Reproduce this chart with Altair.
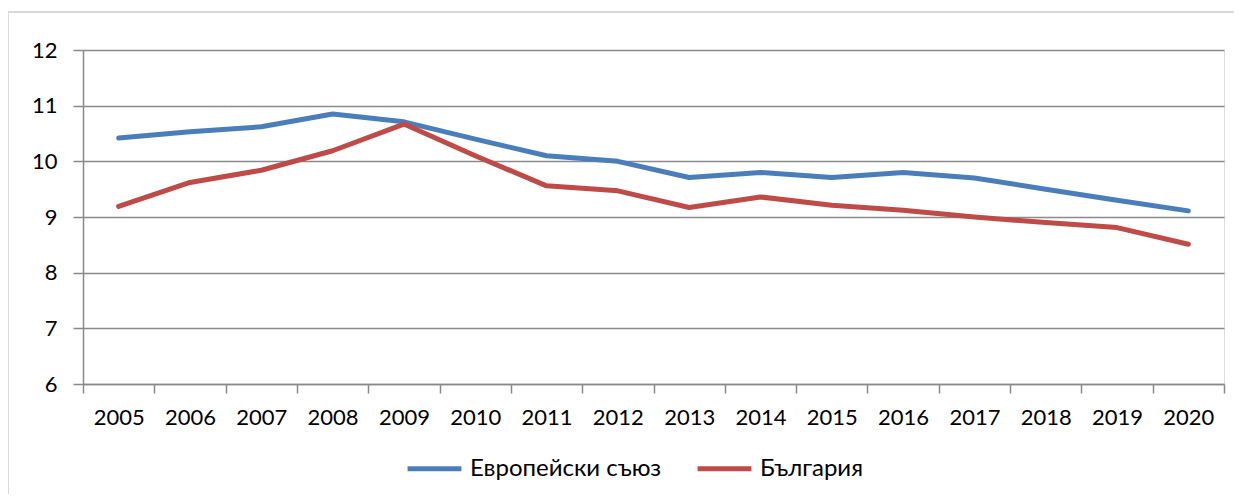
import altair as alt
import pandas as pd

years = [str(y) for y in range(2005, 2021)]
eu_values = [10.42, 10.53, 10.62, 10.85, 10.71, 10.40, 10.10, 10.00, 9.71, 9.80, 9.71, 9.80, 9.70, 9.50, 9.30, 9.11]
bg_values = [9.19, 9.62, 9.84, 10.19, 10.67, 10.10, 9.56, 9.47, 9.17, 9.36, 9.21, 9.12, 9.00, 8.90, 8.81, 8.51]
series_names = ["Европейски съюз", "България"]
series_colors = ["#4A7EBB", "#BE4B48"]
y_ticks = [6, 7, 8, 9, 10, 11, 12]

rows = []
for name, vals in zip(series_names, [eu_values, bg_values]):
    for yr, v in zip(years, vals):
        rows.append({"year": yr, "value": v, "series": name})
df = pd.DataFrame(rows)

FONT = "Lato"
GRID = "#8a8a8a"

lines = alt.Chart(df).mark_line(strokeWidth=5, strokeCap="round", strokeJoin="round").encode(
    x=alt.X("year:N", sort=years,
            scale=alt.Scale(paddingInner=0, paddingOuter=0),
            axis=alt.Axis(title=None, labelAngle=0, tickBand="extent", tickSize=9,
                          tickColor=GRID, tickWidth=1.5, domainColor=GRID, domainWidth=1.5,
                          labelFont=FONT, labelFontSize=22, labelColor="#000000",
                          labelPadding=14, grid=False)),
    y=alt.Y("value:Q", scale=alt.Scale(domain=[6, 12], nice=False, zero=False),
            axis=alt.Axis(title=None, values=y_ticks, tickSize=10, tickColor=GRID, tickWidth=1.5,
                          domainColor=GRID, domainWidth=1.5, grid=True, gridColor=GRID, gridWidth=1.5,
                          labelFont=FONT, labelFontSize=22, labelColor="#000000", labelPadding=16)),
    color=alt.Color("series:N",
                    scale=alt.Scale(domain=series_names, range=series_colors),
                    legend=alt.Legend(title=None, orient="none", direction="horizontal",
                                      legendX=322, legendY=389,
                                      symbolType="stroke", symbolStrokeWidth=5, symbolSize=2900,
                                      labelFont=FONT, labelFontSize=24, labelColor="#000000",
                                      labelLimit=400, labelOffset=6, columnPadding=25, symbolOffset=0)),
)

border_base = alt.Chart(pd.DataFrame({"k": [0]})).mark_rule(
    stroke="#d9d9d9", strokeWidth=2, clip=False
)
border_top = border_base.encode(
    x=alt.value(-75), x2=alt.value(1400), y=alt.value(-38), y2=alt.value(-38),
)
border_left = border_base.encode(
    x=alt.value(-75), x2=alt.value(-75), y=alt.value(-38), y2=alt.value(600),
)

chart = alt.layer(border_top, border_left, lines).properties(
    width=1141, height=334,
    autosize=alt.AutoSizeParams(type="none"),
    padding={"left": 75, "top": 42, "right": 10, "bottom": 110},
).configure_view(stroke=None).configure(background="#ffffff")

chart.save("out.html", embed_options={"renderer": "svg", "actions": False})
